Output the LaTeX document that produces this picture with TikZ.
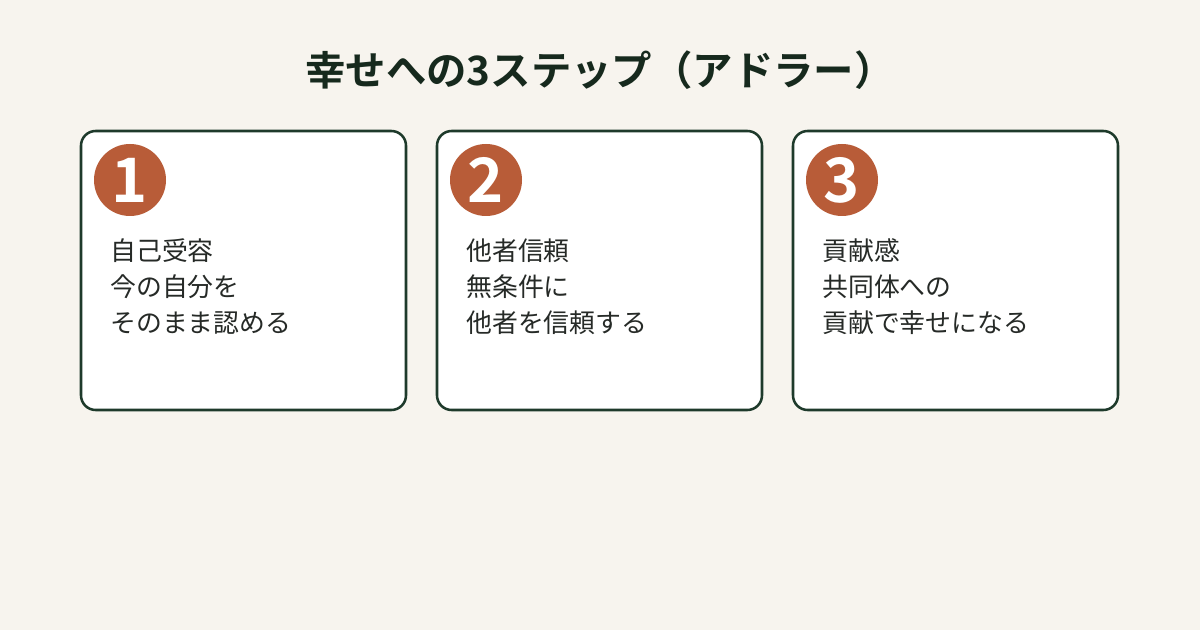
\documentclass[tikz,border=0pt]{standalone}
\usepackage{fontspec}
\setmainfont{Noto Sans CJK JP}
\newfontfamily\jpbold{Noto Sans CJK JP Bold}
\definecolor{bgc}{HTML}{F7F4EE}
\definecolor{cardline}{HTML}{1E3A2B}
\definecolor{badge}{HTML}{B85C38}
\definecolor{titlec}{HTML}{16291D}
\definecolor{bodyc}{HTML}{262A27}
\begin{document}
\begin{tikzpicture}[x=0.75pt,y=-0.75pt,
  card/.style={draw=cardline,line width=1.9pt,fill=white,rounded corners=11pt},
  badgenode/.style={circle,fill=badge,minimum size=54pt,inner sep=0pt,text=white,font=\jpbold\fontsize{46}{46}\selectfont},
  bodytext/.style={anchor=base west,inner sep=0pt,text=bodyc,font=\fontsize{19.4}{19.4}\selectfont},
  titletext/.style={anchor=base,inner sep=0pt,text=titlec,font=\jpbold\fontsize{30.3}{30.3}\selectfont}]
\fill[bgc] (0,0) rectangle (1200,630);
\useasboundingbox (0,0) rectangle (1200,630);
\node[titletext] (title) at (600,86) {幸せへの3ステップ（アドラー）};
% cards
\draw[card] (81,131) rectangle (406,410);
\draw[card] (437,131) rectangle (762,410);
\draw[card] (793,131) rectangle (1118,410);
\node[badgenode] (b1) at (130,180) {1};
\node[badgenode] (b2) at (486,180) {2};
\node[badgenode] (b3) at (842,180) {3};
\node[bodytext] (t1a) at (110,261) {自己受容};
\node[bodytext] (t1b) at (110,297) {今の自分を};
\node[bodytext] (t1c) at (110,333) {そのまま認める};
\node[bodytext] (t2a) at (466,261) {他者信頼};
\node[bodytext] (t2b) at (466,297) {無条件に};
\node[bodytext] (t2c) at (466,333) {他者を信頼する};
\node[bodytext] (t3a) at (822,261) {貢献感};
\node[bodytext] (t3b) at (822,297) {共同体への};
\node[bodytext] (t3c) at (822,333) {貢献で幸せになる};
\end{tikzpicture}
\end{document}
